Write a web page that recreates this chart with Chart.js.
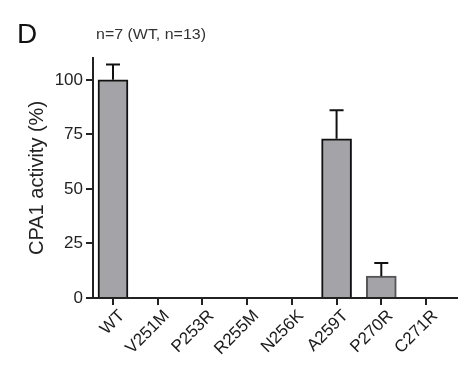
<!DOCTYPE html>
<html>
<head>
<meta charset="utf-8">
<script src="https://cdn.jsdelivr.net/npm/chart.js@4"></script>
<style>
  html, body { margin: 0; padding: 0; background: #fff; }
  #wrap { width: 463px; height: 371px; }
</style>
</head>
<body>
<div id="wrap"><canvas id="chart" width="463" height="371"></canvas></div>
<script>
// CPA1 activity per variant, upper SEM only
const categories = ['WT', 'V251M', 'P253R', 'R255M', 'N256K', 'A259T', 'P270R', 'C271R'];
const activity   = [100, 0, 0, 0, 0, 73, 10, 0];
const errorUp    = [7, 0, 0, 0, 0, 13, 6, 0];
const yTicks     = [0, 25, 50, 75, 100];

const FONT = 'Liberation Sans, Arial, sans-serif';

// whiskers above the bars
const errorBars = {
  id: 'errorBars',
  afterDatasetsDraw(chart) {
    const { ctx, scales: { x, y } } = chart;
    ctx.save();
    ctx.strokeStyle = '#111';
    ctx.lineWidth = 2;
    activity.forEach((v, i) => {
      if (!errorUp[i]) return;
      const px  = x.getPixelForValue(i);
      const top = y.getPixelForValue(v + errorUp[i]);
      ctx.beginPath();
      ctx.moveTo(px, y.getPixelForValue(v));
      ctx.lineTo(px, top);
      ctx.moveTo(px - 7, top);
      ctx.lineTo(px + 7, top);
      ctx.stroke();
    });
    ctx.restore();
  },
};

// panel letter + n note
const panelText = {
  id: 'panelText',
  afterDraw(chart) {
    const ctx = chart.ctx;
    ctx.save();
    ctx.fillStyle = '#111';
    ctx.textBaseline = 'alphabetic';
    ctx.font = `28px ${FONT}`;
    ctx.fillText('D', 17, 43);
    ctx.fillStyle = '#333';
    ctx.font = `14px ${FONT}`;
    ctx.translate(96, 39);
    ctx.scale(1.14, 1);
    ctx.fillText('n=7 (WT, n=13)', 0, 0);
    ctx.restore();
  },
};

new Chart(document.getElementById('chart'), {
  type: 'bar',
  data: {
    datasets: [{
      data: activity.map((v, i) => ({ x: i, y: v })),
      backgroundColor: '#a4a4a8',
      borderColor: ['#111', '#111', '#111', '#111', '#111', '#111', '#555', '#111'],
      borderWidth: 2,
      borderSkipped: 'start',
      barThickness: 30,
    }],
  },
  options: {
    responsive: false,
    animation: false,
    layout: { padding: { top: 58, right: 6, left: 0, bottom: 0 } },
    plugins: { legend: { display: false }, tooltip: { enabled: false } },
    scales: {
      x: {
        type: 'linear',
        offset: false,
        min: -0.447,
        max: 7.693,
        afterBuildTicks: s => { s.ticks = categories.map((_, i) => ({ value: i })); },
        afterFit: s => { s.height = 73; s.paddingLeft = 0; s.paddingRight = 0; },
        grid: { display: true, offset: false, drawOnChartArea: false, tickLength: 7, color: '#222', lineWidth: 2 },
        border: { display: true, color: '#222', width: 2 },
        ticks: {
          callback: v => categories[v] ?? '',
          minRotation: 45,
          maxRotation: 45,
          padding: 1,
          labelOffset: 9,
          color: '#1a1a1a',
          font: { family: FONT, size: 17 },
        },
      },
      y: {
        min: 0,
        max: 110,
        afterBuildTicks: s => { s.ticks = yTicks.map(v => ({ value: v })); },
        afterFit: s => { s.width = 93; },
        grid: { display: true, drawOnChartArea: false, tickLength: 7, color: '#222', lineWidth: 2 },
        border: { display: true, color: '#222', width: 2 },
        ticks: {
          padding: 3,
          color: '#222',
          font: { family: FONT, size: 17 },
        },
        title: {
          display: true,
          text: 'CPA1 activity (%)',
          color: '#222',
          font: { family: FONT, size: 20 },
          padding: { top: 25, bottom: 0 },
        },
      },
    },
  },
  plugins: [errorBars, panelText],
});
</script>
</body>
</html>
